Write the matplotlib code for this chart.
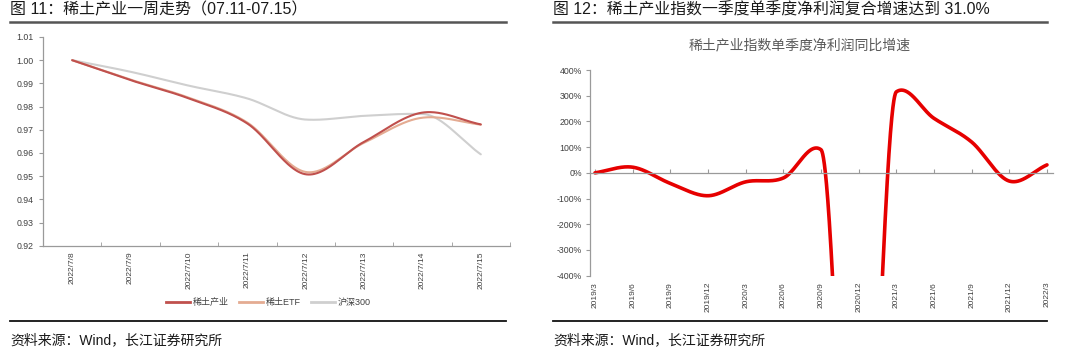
import numpy as np
import matplotlib
matplotlib.use("Agg")
import matplotlib.pyplot as plt
from matplotlib.lines import Line2D

plt.rcParams['font.family'] = ['Liberation Sans', 'Noto Sans CJK SC', 'DejaVu Sans']
plt.rcParams['axes.unicode_minus'] = False

# ---------------- data ----------------
left_dates = ['2022/7/8', '2022/7/9', '2022/7/10', '2022/7/11',
              '2022/7/12', '2022/7/13', '2022/7/14', '2022/7/15']
rare_earth = [1.000, 0.9914, 0.9835, 0.9727, 0.9508, 0.9648, 0.9774, 0.9723]
rare_etf = [1.000, 0.9916, 0.9838, 0.9731, 0.9518, 0.9644, 0.9752, 0.9722]
hs300 = [1.000, 0.9950, 0.9890, 0.9835, 0.9744, 0.9760, 0.9768, 0.9594]
left_yticks = [0.92, 0.93, 0.94, 0.95, 0.96, 0.97, 0.98, 0.99, 1.00, 1.01]

right_quarters = ['2019/3', '2019/6', '2019/9', '2019/12', '2020/3', '2020/6', '2020/9',
                  '2020/12', '2021/3', '2021/6', '2021/9', '2021/12', '2022/3']
profit_growth = [0, 22, -41, -89, -35, -20, 90, -2000, 315, 212, 120, -32, 31]
right_yticks = [-400, -300, -200, -100, 0, 100, 200, 300, 400]


def smooth(ys, n=60):
    """Cubic Hermite smoothing (Catmull-Rom tangents, limited at extrema)."""
    y = np.asarray(ys, dtype=float)
    k = len(y)
    m = np.zeros(k)
    for i in range(k):
        if i == 0:
            m[i] = y[1] - y[0]
        elif i == k - 1:
            m[i] = y[-1] - y[-2]
        else:
            m[i] = (y[i + 1] - y[i - 1]) / 2.0
            d0, d1 = y[i] - y[i - 1], y[i + 1] - y[i]
            if d0 * d1 < 0:
                lim = min(abs(d0), abs(d1))
                m[i] = np.clip(m[i], -lim, lim)
    xs, out = [], []
    t = np.linspace(0, 1, n)
    h00 = 2 * t**3 - 3 * t**2 + 1
    h10 = t**3 - 2 * t**2 + t
    h01 = -2 * t**3 + 3 * t**2
    h11 = t**3 - t**2
    for i in range(k - 1):
        seg = h00 * y[i] + h10 * m[i] + h01 * y[i + 1] + h11 * m[i + 1]
        xs.append(i + t)
        out.append(seg)
    return np.concatenate(xs), np.concatenate(out)


fig = plt.figure(figsize=(10.8, 3.55), dpi=100)

axis_gray = '#9a9a9a'
text_gray = '#404040'

# ---------------- left chart ----------------
ax1 = fig.add_axes([43 / 1080, 1 - 245.7 / 355, 467 / 1080, 208.7 / 355])
series = [(rare_earth, '#c0504d', '稀土产业'),
          (rare_etf, '#e4ab92', '稀土ETF'),
          (hs300, '#cfcfcf', '沪深300')]
for vals, col, lab in series[::-1]:
    sx, sy = smooth(vals)
    ax1.plot(sx, sy, color=col, lw=1.5, solid_capstyle='round', label=lab)
ax1.set_xlim(-0.5, len(left_dates) - 0.5)
ax1.set_ylim(0.92, 1.01)
ax1.set_yticks(left_yticks)
ax1.set_yticklabels([f'{v:.2f}' for v in left_yticks])
ax1.set_xticks(range(len(left_dates)))
ax1.set_xticklabels(left_dates, rotation=90, va='top')
ax1.set_xticks(np.arange(-0.5, len(left_dates), 1.0), minor=True)
ax1.tick_params(axis='x', which='major', length=0, pad=4, labelsize=6, labelcolor=text_gray)
ax1.tick_params(axis='x', which='minor', length=3, direction='in', color=axis_gray)
ax1.tick_params(axis='y', length=3, color=axis_gray, labelsize=6.3, labelcolor=text_gray, pad=4)
for s in ['top', 'right']:
    ax1.spines[s].set_visible(False)
for s in ['left', 'bottom']:
    ax1.spines[s].set_color(axis_gray)
    ax1.spines[s].set_linewidth(0.9)

handles = [Line2D([], [], color=c, lw=2) for _, c, _ in series]
labels = [l for _, _, l in series]
fig.legend(handles, labels, loc='center', bbox_to_anchor=(268.5 / 1080, 1 - 302.7 / 355),
           ncol=3, frameon=False, fontsize=6.5, handlelength=2.6, handletextpad=0.3,
           columnspacing=1.2, labelcolor=text_gray)

# ---------------- right chart ----------------
ax2 = fig.add_axes([590 / 1080, 1 - 275.7 / 355, 463 / 1080, 205.7 / 355])
sx, sy = smooth(profit_growth, n=200)
ax2.plot(sx, sy, color='#e60000', lw=2.6, solid_capstyle='round')
ax2.set_xlim(-0.133, 12.16)
ax2.set_ylim(-400, 400)
ax2.set_yticks(right_yticks)
ax2.set_yticklabels([f'{v}%' for v in right_yticks])
ax2.tick_params(axis='y', length=3, color=axis_gray, labelsize=6.3, labelcolor=text_gray, pad=3)
ax2.spines['bottom'].set_position(('data', 0))
ax2.set_xticks(range(len(right_quarters)))
ax2.set_xticklabels([])
ax2.tick_params(axis='x', length=3, direction='in', color=axis_gray)
for s in ['top', 'right']:
    ax2.spines[s].set_visible(False)
for s in ['left', 'bottom']:
    ax2.spines[s].set_color(axis_gray)
    ax2.spines[s].set_linewidth(0.9)
for i, q in enumerate(right_quarters):
    ax2.text(i, -0.03, q, transform=ax2.get_xaxis_transform(), rotation=90,
             ha='center', va='top', fontsize=6, color=text_gray)
fig.text(800 / 1080, 1 - 45 / 355, '稀土产业指数单季度净利润同比增速', ha='center', va='center',
         fontsize=10, color='#595959', family=['Noto Sans CJK SC', 'DejaVu Sans'])

# ---------------- headers / footers ----------------
fig.text(10 / 1080, 1 - 10 / 355, '图 11：稀土产业一周走势（07.11-07.15）', ha='left', va='center',
         fontsize=11.5, color='#1a1a1a')
fig.text(553 / 1080, 1 - 10 / 355, '图 12：稀土产业指数一季度单季度净利润复合增速达到 31.0%',
         ha='left', va='center', fontsize=11.4, color='#1a1a1a')
for x0, x1 in [(10, 506), (553, 1047)]:
    fig.add_artist(Line2D([x0 / 1080, x1 / 1080], [1 - 22 / 355] * 2, color='#555555', lw=1.8))
    fig.add_artist(Line2D([x0 / 1080, x1 / 1080], [1 - 321 / 355] * 2, color='#111111', lw=1.3))
fig.text(10 / 1080, 1 - 340 / 355, '资料来源：Wind，长江证券研究所', ha='left', va='center',
         fontsize=10, color='#1a1a1a')
fig.text(553 / 1080, 1 - 340 / 355, '资料来源：Wind，长江证券研究所', ha='left', va='center',
         fontsize=10, color='#1a1a1a')

fig.savefig('out.png', dpi=100, facecolor='white')
